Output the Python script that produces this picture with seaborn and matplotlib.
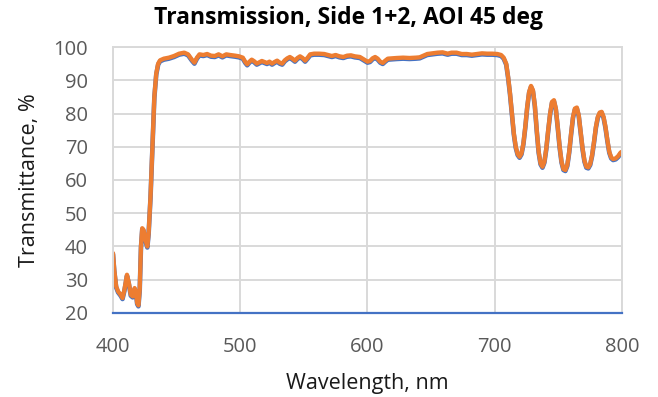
import matplotlib
matplotlib.use("Agg")
import matplotlib.pyplot as plt
import pandas as pd
import seaborn as sns

# Wavelength grid (nm)
wavelength = [
    400, 401, 402.5, 404, 406, 407.5, 409, 411, 412.5, 414, 415.5, 417, 418, 419, 420,
    421, 422, 423, 424, 425.5, 427, 428, 429.5, 431, 432.5, 434, 435.5, 437, 440, 444,
    448, 452, 456, 459, 462, 464, 466, 468, 471, 474, 477, 480, 483, 486, 489,
    492, 496, 499, 502, 504, 505.5, 507, 509, 511, 513, 515, 517, 519, 521, 523,
    525, 527, 529, 531, 533, 535, 537, 539, 541, 543, 545, 547, 549, 551, 553,
    555, 558, 562, 566, 569, 572, 575, 578, 581, 584, 587, 590, 594, 597, 600,
    602, 604, 606, 608, 610, 612, 614, 616, 619, 623, 628, 633, 638, 641, 644,
    647, 651, 655, 659, 663, 666, 670, 674, 678, 682, 686, 690, 694, 698, 702,
    705, 707, 709, 710.5, 712, 713.5, 715, 716.5, 718, 719.5, 721, 722.5, 724, 725.5, 727,
    728.5, 730, 731.5, 733, 734.5, 736, 737.5, 739, 740.5, 742, 743.5, 745, 746.5, 748,
    749.5, 751, 752.5, 754, 755.5, 757, 758.5, 760, 761.5, 763, 764.5, 766, 767.5, 769,
    770.5, 772, 773.5, 775, 776.5, 778, 779.5, 781, 782.5, 784, 785.5, 787, 788.5, 790,
    791.5, 793, 795, 797, 799, 800,
]

# Transmittance, first trace (%)
trans_blue = [
    37.7, 32.7, 27.7, 26.2, 25.2, 24.2, 26.7, 31.2, 28.7, 25.2, 24.7, 27.2, 26.2, 22.7, 22.0,
    26.7, 39.7, 45.2, 44.7, 41.7, 39.7, 43.7, 54.7, 69.7, 84.7, 91.7, 94.7, 95.7, 96.2, 96.5,
    97.0, 97.7, 98.0, 97.5, 95.9, 95.0, 96.5, 97.5, 97.3, 97.6, 97.1, 97.0, 97.5, 96.9, 97.5,
    97.3, 97.1, 96.9, 96.5, 95.2, 94.5, 95.2, 95.9, 95.4, 94.7, 95.1, 95.5, 95.2, 94.9, 95.3,
    94.7, 95.2, 95.6, 95.0, 94.7, 95.7, 96.3, 96.7, 96.2, 95.6, 96.4, 96.9, 96.4, 95.6, 96.5,
    97.5, 97.7, 97.7, 97.6, 97.3, 97.0, 97.3, 96.9, 96.7, 97.1, 97.2, 96.9, 96.7, 96.0, 95.3,
    95.5, 96.3, 96.7, 96.2, 95.3, 94.9, 95.6, 96.2, 96.3, 96.4, 96.5, 96.4, 96.5, 96.6, 97.1,
    97.6, 97.8, 98.0, 98.1, 97.7, 98.0, 98.0, 97.6, 97.6, 97.4, 97.6, 97.8, 97.7, 97.7, 97.6,
    97.3, 96.5, 94.7, 90.7, 85.7, 79.7, 73.7, 69.7, 67.5, 66.7, 67.7, 70.7, 75.7, 81.7, 86.2,
    88.0, 86.7, 82.2, 74.7, 68.2, 64.7, 63.7, 65.2, 69.2, 74.7, 79.7, 83.2, 83.7, 81.2,
    75.7, 69.7, 65.2, 63.0, 62.7, 64.2, 68.2, 73.7, 78.7, 81.2, 81.5, 79.2, 74.2, 69.2,
    65.5, 63.7, 63.5, 64.5, 67.2, 71.2, 75.7, 78.7, 80.0, 80.2, 78.7, 75.7, 71.7, 68.2,
    66.5, 66.0, 66.2, 66.9, 68.0, 68.2,
]

# Transmittance, second trace (%)
trans_orange = [
    38.0, 33.0, 28.0, 26.5, 25.5, 24.5, 27.0, 31.5, 29.0, 25.5, 25.0, 27.5, 26.5, 23.0, 22.3,
    27.0, 40.0, 45.5, 45.0, 42.0, 40.0, 44.0, 55.0, 70.0, 85.0, 92.0, 95.0, 96.0, 96.5, 96.8,
    97.3, 98.0, 98.3, 97.8, 96.2, 95.3, 96.8, 97.8, 97.6, 97.9, 97.4, 97.3, 97.8, 97.2, 97.8,
    97.6, 97.4, 97.2, 96.8, 95.5, 94.8, 95.5, 96.2, 95.7, 95.0, 95.4, 95.8, 95.5, 95.2, 95.6,
    95.0, 95.5, 95.9, 95.3, 95.0, 96.0, 96.6, 97.0, 96.5, 95.9, 96.7, 97.2, 96.7, 95.9, 96.8,
    97.8, 98.0, 98.0, 97.9, 97.6, 97.3, 97.6, 97.2, 97.0, 97.4, 97.5, 97.2, 97.0, 96.3, 95.6,
    95.8, 96.6, 97.0, 96.5, 95.6, 95.2, 95.9, 96.5, 96.6, 96.7, 96.8, 96.7, 96.8, 96.9, 97.4,
    97.9, 98.1, 98.3, 98.4, 98.0, 98.3, 98.3, 97.9, 97.9, 97.7, 97.9, 98.1, 98.0, 98.0, 97.9,
    97.6, 96.8, 95.0, 91.0, 86.0, 80.0, 74.0, 70.0, 67.8, 67.0, 68.0, 71.0, 76.0, 82.0, 86.5,
    88.3, 87.0, 82.5, 75.0, 68.5, 65.0, 64.0, 65.5, 69.5, 75.0, 80.0, 83.5, 84.0, 81.5,
    76.0, 70.0, 65.5, 63.3, 63.0, 64.5, 68.5, 74.0, 79.0, 81.5, 81.8, 79.5, 74.5, 69.5,
    65.8, 64.0, 63.8, 64.8, 67.5, 71.5, 76.0, 79.0, 80.3, 80.5, 79.0, 76.0, 72.0, 68.5,
    66.8, 66.3, 66.5, 67.2, 68.3, 68.5,
]

x_ticks = [400, 500, 600, 700, 800]
y_ticks = [20, 30, 40, 50, 60, 70, 80, 90, 100]

title = "Transmission, Side 1+2, AOI 45 deg"
x_label = "Wavelength, nm"
y_label = "Transmittance, %"

sns.set_theme(style="white")
plt.rcParams["font.family"] = ["Open Sans", "DejaVu Sans"]

df = pd.DataFrame({"wavelength": wavelength, "blue": trans_blue, "orange": trans_orange})

fig = plt.figure(figsize=(6.58, 3.97), dpi=100)
ax = fig.add_axes([0.1717, 0.2116, 0.7736, 0.67])

grid_color = "#D9D9D9"
ax.set_axisbelow(True)
ax.grid(True, color=grid_color, linewidth=1.4)

sns.lineplot(data=df, x="wavelength", y="blue", ax=ax, color="#4472C4",
             linewidth=3.3, solid_capstyle="round", solid_joinstyle="round")
sns.lineplot(data=df, x="wavelength", y="orange", ax=ax, color="#ED7D31",
             linewidth=3.1, solid_capstyle="round", solid_joinstyle="round")

ax.set_xlim(400, 800)
ax.set_ylim(20, 100)
ax.set_xticks(x_ticks)
ax.set_yticks(y_ticks)
ax.tick_params(axis="both", length=0, labelsize=14.5, labelcolor="#595959")
ax.tick_params(axis="x", pad=17)
ax.tick_params(axis="y", pad=18)

for side in ["top", "right", "left"]:
    ax.spines[side].set_color(grid_color)
    ax.spines[side].set_linewidth(1.4)
ax.spines["bottom"].set_color("#4472C4")
ax.spines["bottom"].set_linewidth(1.6)

ax.set_xlabel("")
ax.set_ylabel("")
fig.text(367 / 658, 1 - 383 / 397, x_label, fontsize=15.5, color="#1a1a1a",
         ha="center", va="center")
fig.text(30 / 658, 1 - 180 / 397, y_label, fontsize=15.5, color="#1a1a1a",
         ha="center", va="center", rotation=90)
fig.text(348 / 658, 1 - 18 / 397, title, fontsize=16.5, fontweight="bold",
         color="black", ha="center", va="center")

fig.savefig("out.png", dpi=100)
